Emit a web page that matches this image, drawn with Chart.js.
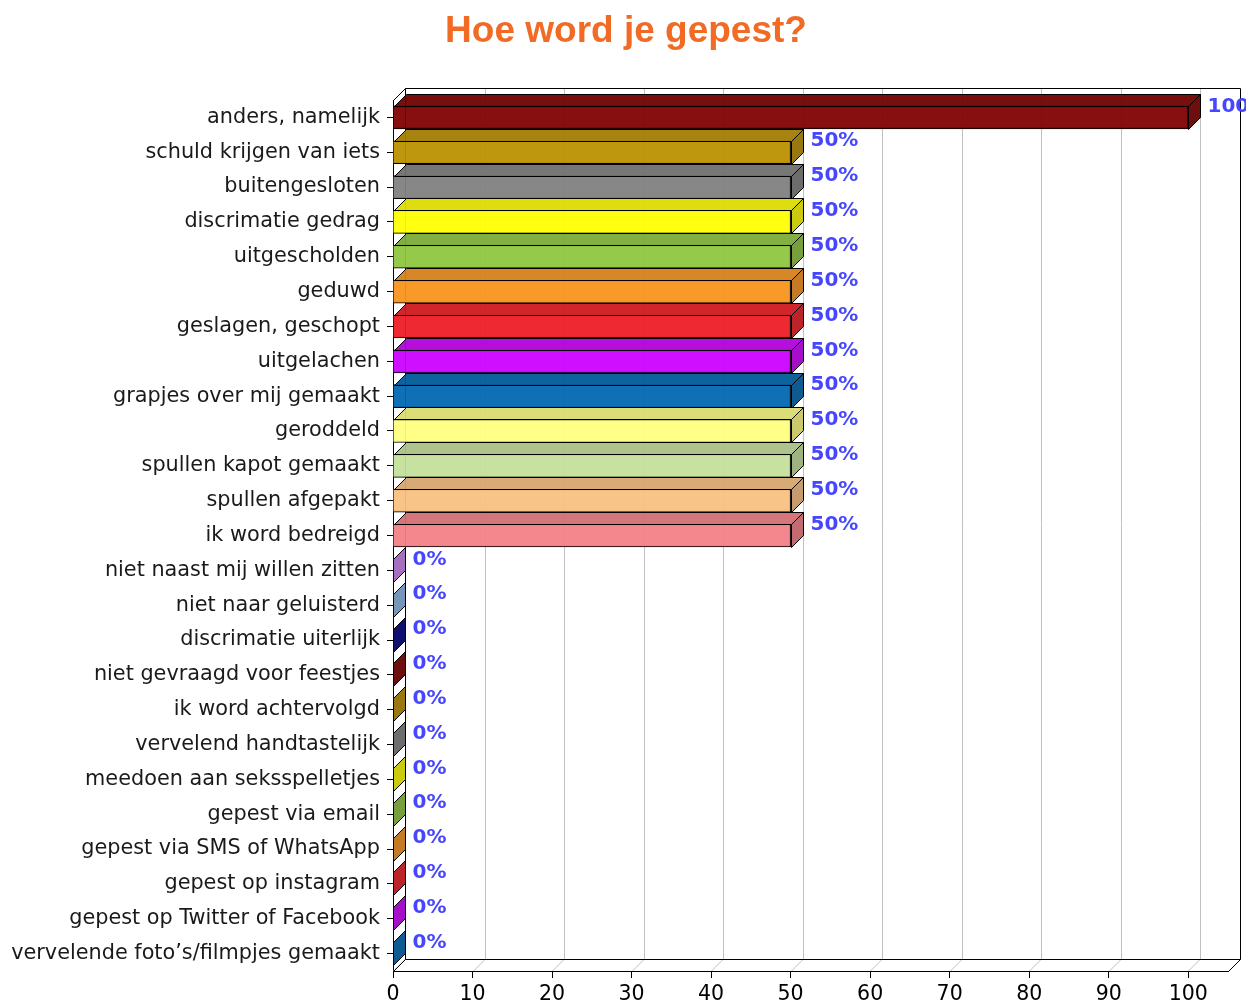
<!DOCTYPE html>
<html>
<head>
<meta charset="utf-8">
<script src="https://cdn.jsdelivr.net/npm/chart.js@4.4.0/dist/chart.umd.min.js"></script>
<style>
  html, body { margin: 0; padding: 0; background: #fff; }
</style>
</head>
<body>
<canvas id="pestChart" width="1246" height="1005"></canvas>
<script>
const chartTitle = 'Hoe word je gepest?';
const categories = [
    'anders, namelijk', 'schuld krijgen van iets', 'buitengesloten', 'discrimatie gedrag',
    'uitgescholden', 'geduwd', 'geslagen, geschopt', 'uitgelachen', 'grapjes over mij gemaakt',
    'geroddeld', 'spullen kapot gemaakt', 'spullen afgepakt', 'ik word bedreigd',
    'niet naast mij willen zitten', 'niet naar geluisterd', 'discrimatie uiterlijk',
    'niet gevraagd voor feestjes', 'ik word achtervolgd', 'vervelend handtastelijk',
    'meedoen aan seksspelletjes', 'gepest via email', 'gepest via SMS of WhatsApp',
    'gepest op instagram', 'gepest op Twitter of Facebook', 'vervelende foto\u2019s/filmpjes gemaakt'
];
const values = [100, 50, 50, 50, 50, 50, 50, 50, 50, 50, 50, 50, 50, 0, 0, 0, 0, 0, 0, 0, 0, 0, 0, 0, 0];
const valueLabels = ['100%', '50%', '50%', '50%', '50%', '50%', '50%', '50%', '50%', '50%', '50%', '50%', '50%',
    '0%', '0%', '0%', '0%', '0%', '0%', '0%', '0%', '0%', '0%', '0%', '0%'];
const barColors = [
    '#800000', '#bb9000', '#808080', '#ffff00', '#8dc63f', '#f7941d', '#ed1c24', '#cc00ff',
    '#0067b0', '#ffff80', '#c4df9b', '#f9c07f', '#f37f87', '#d080f0', '#8bb6e8', '#000080',
    '#800000', '#bb9000', '#808080', '#ffff00', '#8dc63f', '#f7941d', '#ed1c24', '#cc00ff', '#0067b0'
];
const xTicks = [0, 10, 20, 30, 40, 50, 60, 70, 80, 90, 100];

const depth = 12;
const barAlpha = 0.94;

function shade(hex, f, alpha) {
    const n = parseInt(hex.slice(1), 16);
    const r = Math.round(((n >> 16) & 255) * f);
    const g = Math.round(((n >> 8) & 255) * f);
    const b = Math.round((n & 255) * f);
    return 'rgba(' + r + ',' + g + ',' + b + ',' + alpha + ')';
}

function poly(ctx, pts, fill) {
    ctx.beginPath();
    ctx.moveTo(pts[0][0], pts[0][1]);
    for (let i = 1; i < pts.length; i++) ctx.lineTo(pts[i][0], pts[i][1]);
    ctx.closePath();
    ctx.fillStyle = fill;
    ctx.fill();
    ctx.stroke();
}

// back wall, floor and grid of the 3d box, plus bar tops/sides
const box3d = {
    id: 'box3d',
    beforeDatasetsDraw(chart) {
        const { ctx, chartArea: a, scales: { x } } = chart;
        ctx.save();
        ctx.lineWidth = 1;
        ctx.strokeStyle = '#c0c0c0';
        xTicks.forEach(v => {
            const px = Math.round(x.getPixelForValue(v)) + 0.5;
            ctx.beginPath();
            ctx.moveTo(px + depth, a.top - depth);
            ctx.lineTo(px + depth, a.bottom - depth);
            ctx.lineTo(px, a.bottom);
            ctx.stroke();
        });
        const L = Math.round(a.left) + 0.5, R = Math.round(a.right) + 0.5;
        const T = Math.round(a.top) + 0.5, B = Math.round(a.bottom) + 0.5;
        ctx.strokeStyle = '#000';
        ctx.beginPath();
        ctx.moveTo(L, T);
        ctx.lineTo(L + depth, T - depth);
        ctx.lineTo(R + depth, T - depth);
        ctx.lineTo(R + depth, B - depth);
        ctx.lineTo(R, B);
        ctx.moveTo(L + depth, T - depth);
        ctx.lineTo(L + depth, B - depth);
        ctx.lineTo(R + depth, B - depth);
        ctx.moveTo(L, B);
        ctx.lineTo(L + depth, B - depth);
        ctx.stroke();
        ctx.restore();
    },
    afterDatasetsDraw(chart) {
        const ctx = chart.ctx;
        const meta = chart.getDatasetMeta(0);
        ctx.save();
        ctx.lineWidth = 1;
        ctx.strokeStyle = '#000';
        meta.data.forEach((bar, i) => {
            const top = Math.round(bar.y - bar.height / 2) + 0.5;
            const bottom = Math.round(bar.y + bar.height / 2) + 0.5;
            const left = Math.round(bar.base) + 0.5;
            const right = Math.round(bar.x) + 0.5;
            poly(ctx, [[left, top], [left + depth, top - depth], [right + depth, top - depth], [right, top]],
                shade(barColors[i], 0.86, barAlpha));
            poly(ctx, [[right, top], [right + depth, top - depth], [right + depth, bottom - depth], [right, bottom]],
                shade(barColors[i], 0.78, barAlpha));
            ctx.fillStyle = '#4646ff';
            ctx.font = 'bold 20px "DejaVu Sans"';
            ctx.textAlign = 'left';
            ctx.textBaseline = 'middle';
            ctx.fillText(valueLabels[i], right + depth + 7, bar.y - 11);
        });
        ctx.restore();
    },
    afterDraw(chart) {
        const ctx = chart.ctx;
        ctx.save();
        ctx.fillStyle = '#f26b25';
        ctx.font = 'bold 37px "Liberation Sans", Arial, sans-serif';
        ctx.textAlign = 'center';
        ctx.textBaseline = 'alphabetic';
        ctx.fillText(chartTitle, 626, 42);
        ctx.restore();
    }
};

new Chart(document.getElementById('pestChart'), {
    type: 'bar',
    data: {
        labels: categories,
        datasets: [{
            data: values,
            backgroundColor: barColors.map(c => shade(c, 1, barAlpha)),
            borderColor: '#000',
            borderWidth: 1,
            barThickness: 23
        }]
    },
    options: {
        indexAxis: 'y',
        responsive: false,
        animation: false,
        layout: { padding: { left: 0, right: 18, top: 100, bottom: 0 } },
        plugins: {
            legend: { display: false },
            tooltip: { enabled: false },
            title: { display: false }
        },
        scales: {
            x: {
                min: 0,
                max: 105,
                afterBuildTicks: s => { s.ticks = xTicks.map(v => ({ value: v })); },
                afterFit: s => { s.height = 34; },
                grid: { drawOnChartArea: false, drawTicks: true, tickLength: 7, color: '#000' },
                border: { display: true, color: '#000' },
                ticks: { color: '#000', padding: 4, maxRotation: 0, font: { family: '"DejaVu Sans"', size: 20.5 } }
            },
            y: {
                afterFit: s => { s.width = 393; },
                grid: { drawOnChartArea: false, drawTicks: true, tickLength: 6, color: '#000', offset: false },
                border: { display: true, color: '#000' },
                ticks: { color: '#1a1a1a', padding: 7, autoSkip: false, font: { family: '"DejaVu Sans"', size: 20.8 } }
            }
        }
    },
    plugins: [box3d]
});
</script>
</body>
</html>
